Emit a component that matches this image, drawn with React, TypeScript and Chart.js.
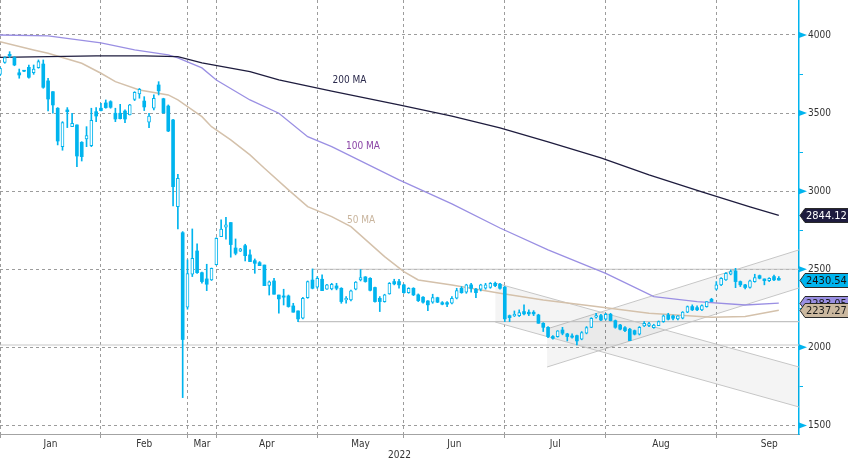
import { useEffect, useRef } from 'react';
import { Chart, registerables } from 'chart.js';

Chart.register(...registerables);

const FONT = "'DejaVu Sans Condensed', 'Liberation Sans Narrow', 'DejaVu Sans', sans-serif";
const CYAN = '#00b4ee';

// ---- candles (one per trading day, index 0 = first January session) ----
const opens = [
  3748, 3825, 3876, 3855, 3758, 3770, 3793, 3759, 3791, 3814,
  3706, 3637, 3531, 3285, 3520, 3413, 3424, 3313, 3334, 3292,
  3509, 3531, 3565, 3573, 3499, 3499, 3513, 3488, 3588, 3622,
  3577, 3441, 3531, 3680, 3592, 3545, 3456, 2901, 2734, 2257,
  2468, 2617, 2478, 2438, 2431, 2530, 2709, 2769, 2799, 2636,
  2615, 2651, 2592, 2555, 2542, 2527, 2397, 2425, 2335, 2329,
  2329, 2265, 2233, 2186, 2318, 2431, 2385, 2436, 2372, 2374,
  2393, 2378, 2303, 2303, 2372, 2432, 2451, 2442, 2383, 2314,
  2293, 2342, 2421, 2421, 2400, 2350, 2378, 2336, 2321, 2297,
  2289, 2318, 2286, 2286, 2282, 2314, 2378, 2353, 2400, 2372,
  2372, 2378, 2383, 2410, 2404, 2385, 2203, 2201, 2203, 2229,
  2225, 2225, 2207, 2154, 2128, 2069, 2069, 2111, 2086, 2073,
  2075, 2052, 2090, 2128, 2193, 2203, 2180, 2212, 2171, 2143,
  2126, 2116, 2107, 2084, 2137, 2141, 2126, 2139, 2165, 2207,
  2201, 2182, 2186, 2225, 2261, 2254, 2240, 2261, 2308, 2372,
  2400, 2432, 2468, 2489, 2421, 2400, 2383, 2421, 2459, 2438,
  2427, 2453, 2442,
];
const highs = [
  3795, 3861, 3893, 3862, 3782, 3773, 3808, 3808, 3840, 3840,
  3723, 3637, 3535, 3445, 3535, 3499, 3424, 3317, 3413, 3531,
  3535, 3563, 3584, 3579, 3531, 3556, 3520, 3556, 3637, 3658,
  3605, 3499, 3616, 3701, 3595, 3552, 3460, 3108, 2741, 2560,
  2758, 2662, 2482, 2532, 2508, 2702, 2816, 2833, 2799, 2694,
  2634, 2660, 2624, 2566, 2549, 2527, 2425, 2442, 2335, 2372,
  2335, 2282, 2233, 2320, 2425, 2502, 2453, 2464, 2404, 2410,
  2410, 2382, 2325, 2367, 2421, 2498, 2453, 2446, 2385, 2325,
  2340, 2415, 2436, 2436, 2404, 2382, 2382, 2342, 2325, 2299,
  2340, 2321, 2293, 2293, 2325, 2378, 2389, 2404, 2410, 2378,
  2404, 2410, 2415, 2417, 2410, 2390, 2207, 2233, 2240, 2272,
  2240, 2235, 2212, 2158, 2133, 2075, 2107, 2128, 2090, 2086,
  2079, 2101, 2133, 2190, 2218, 2212, 2218, 2218, 2175, 2148,
  2133, 2122, 2111, 2133, 2165, 2160, 2148, 2169, 2207, 2218,
  2207, 2203, 2229, 2265, 2272, 2265, 2272, 2293, 2314, 2421,
  2446, 2478, 2496, 2506, 2425, 2404, 2431, 2468, 2463, 2438,
  2446, 2463, 2453,
];
const lows = [
  3740, 3819, 3855, 3803, 3723, 3765, 3723, 3748, 3787, 3659,
  3513, 3499, 3296, 3262, 3407, 3413, 3157, 3193, 3285, 3285,
  3445, 3514, 3531, 3531, 3445, 3462, 3439, 3488, 3580, 3595,
  3516, 3407, 3520, 3616, 3499, 3381, 2905, 2758, 1678, 2244,
  2453, 2474, 2410, 2363, 2428, 2527, 2709, 2692, 2577, 2592,
  2613, 2553, 2549, 2474, 2523, 2395, 2335, 2340, 2218, 2271,
  2257, 2225, 2165, 2182, 2314, 2374, 2378, 2363, 2370, 2368,
  2368, 2282, 2282, 2297, 2368, 2425, 2417, 2361, 2289, 2229,
  2289, 2340, 2400, 2378, 2346, 2346, 2331, 2293, 2282, 2235,
  2282, 2286, 2272, 2261, 2278, 2310, 2346, 2346, 2353, 2318,
  2361, 2372, 2378, 2389, 2372, 2165, 2165, 2197, 2197, 2207,
  2203, 2203, 2154, 2101, 2062, 2052, 2065, 2080, 2041, 2058,
  2015, 2048, 2086, 2126, 2186, 2171, 2175, 2169, 2122, 2111,
  2101, 2043, 2079, 2079, 2133, 2133, 2122, 2139, 2160, 2175,
  2175, 2175, 2182, 2222, 2235, 2235, 2235, 2257, 2293, 2367,
  2395, 2428, 2464, 2382, 2389, 2374, 2378, 2417, 2438, 2400,
  2421, 2427, 2430,
];
const closes = [
  3787, 3855, 3866, 3808, 3744, 3768, 3729, 3782, 3829, 3665,
  3590, 3552, 3321, 3439, 3509, 3435, 3225, 3221, 3356, 3454,
  3481, 3516, 3535, 3537, 3462, 3464, 3462, 3552, 3633, 3652,
  3539, 3481, 3595, 3642, 3501, 3385, 3029, 3082, 2050, 2472,
  2570, 2478, 2421, 2404, 2506, 2698, 2757, 2784, 2658, 2602,
  2630, 2587, 2549, 2538, 2523, 2395, 2419, 2340, 2310, 2321,
  2261, 2225, 2182, 2314, 2421, 2378, 2442, 2363, 2400, 2404,
  2378, 2293, 2314, 2361, 2417, 2446, 2421, 2365, 2293, 2293,
  2336, 2410, 2406, 2400, 2350, 2378, 2336, 2299, 2289, 2272,
  2318, 2289, 2276, 2276, 2314, 2363, 2350, 2400, 2378, 2350,
  2400, 2400, 2410, 2395, 2378, 2182, 2190, 2212, 2222, 2214,
  2214, 2214, 2154, 2128, 2069, 2058, 2105, 2090, 2069, 2065,
  2041, 2094, 2126, 2186, 2203, 2175, 2212, 2171, 2128, 2116,
  2107, 2043, 2084, 2128, 2154, 2152, 2143, 2165, 2201, 2180,
  2186, 2201, 2225, 2261, 2240, 2240, 2267, 2293, 2293, 2400,
  2442, 2474, 2485, 2421, 2400, 2383, 2425, 2446, 2442, 2427,
  2442, 2432, 2430.54,
];

// ---- x axis (trading-day index) ----
const monthStarts = [0, 21, 39, 45, 66, 84, 105, 126, 149];
const monthLabels = ['Jan', 'Feb', 'Mar', 'Apr', 'May', 'Jun', 'Jul', 'Aug', 'Sep'];
const monthLabelAt = [10.5, 30, 42, 55.5, 75, 94.5, 115.5, 137.5, 160];
const yearLabel = '2022';
const xEnd = 166.2;

// ---- y axis ----
const yMin = 1445;
const yMax = 4224;
const yTicks = [1500, 1750, 2000, 2250, 2500, 2750, 3000, 3250, 3500, 3750, 4000];

// ---- moving averages (read at sample days) ----
const ma200Day = [0, 10, 20, 30, 37, 42, 52, 58, 69, 83, 94, 104, 114, 125, 135, 146, 156, 162];
const ma200Val = [3857, 3862, 3866, 3866, 3862, 3821, 3765, 3712, 3641, 3552, 3481, 3405, 3315, 3213, 3104, 2995, 2899, 2844.12];
const ma100Day = [0, 10, 21, 28, 35, 37, 42, 45, 52, 58, 64, 69, 83, 94, 104, 114, 126, 136, 145, 155, 162];
const ma100Val = [4000, 3994, 3949, 3904, 3872, 3853, 3789, 3712, 3584, 3499, 3349, 3285, 3072, 2918, 2764, 2624, 2474, 2325, 2293, 2271, 2283.05];
const ma50Day = [0, 7, 10, 17, 21, 24, 29, 35, 37, 42, 44, 48, 52, 55, 60, 64, 69, 73, 80, 84, 87, 94, 104, 113, 124, 135, 148, 155, 162];
const ma50Val = [3957, 3904, 3883, 3819, 3755, 3701, 3648, 3616, 3584, 3477, 3413, 3328, 3232, 3147, 3008, 2901, 2837, 2773, 2581, 2485, 2431, 2399, 2346, 2303, 2261, 2218, 2193, 2197, 2237.27];
const maNames = ['200 MA', '100 MA', '50 MA'];
const maNameDay = [72.7, 75.5, 75.1];
const maNameVal = [3712, 3289, 2813];

// ---- drawn levels and channels ----
const supportLevel = 2165;
const supportFrom = 62;
const resistLevel = 2500;
const resistFrom = 65;
const lowLevel = 2015;
const descFrom = 103;
const descUpper = [2412, 1874];
const descLower = [2162, 1618];
const ascFrom = 113.8;
const ascUpper = [2118, 2624];
const ascLower = [1874, 2380];

const C200 = '#1e1c3e';
const C100 = '#9a8fe3';
const C50 = '#d4c1ab';

export default function App() {
  const ref = useRef<HTMLCanvasElement>(null);

  useEffect(() => {
    document.body.style.margin = '0';
    const canvas = ref.current;
    if (!canvas) return;

    const days = opens.map((_, i) => i);
    const up = opens.map((o, i) => closes[i] >= o);
    const bodies = days.map((i) => ({ x: i, y: [opens[i], closes[i]] }));
    const wicks = days.map((i) => ({ x: i, y: [lows[i], highs[i]] }));
    const pts = (xs: number[], ys: number[]) => xs.map((x, k) => ({ x, y: ys[k] }));
    const seg = (x0: number, ys: number[]) => [{ x: x0, y: ys[0] }, { x: xEnd, y: ys[1] }];
    const isStart = (v: any) => monthStarts.indexOf(v) >= 0;

    const lineDs = (data: any, color: string, width: number, order: number, extra: any = {}) => ({
      type: 'line',
      data,
      borderColor: color,
      borderWidth: width,
      pointRadius: 0,
      tension: 0,
      fill: false,
      order,
      ...extra,
    });

    const overlay = {
      id: 'overlay',
      afterDraw(chart: any) {
        const { ctx, chartArea, scales } = chart;
        const ys = scales.y;
        const xs = scales.x;
        ctx.save();
        // major tick triangles
        ctx.fillStyle = CYAN;
        yTicks.forEach((v) => {
          if (v % 500 !== 0) return;
          const py = ys.getPixelForValue(v);
          ctx.beginPath();
          ctx.moveTo(chartArea.right, py - 3);
          ctx.lineTo(chartArea.right + 8, py);
          ctx.lineTo(chartArea.right, py + 3);
          ctx.closePath();
          ctx.fill();
        });
        // MA names
        ctx.font = `10px ${FONT}`;
        ctx.textAlign = 'center';
        ctx.textBaseline = 'middle';
        const nameColors = ['#2b2a4c', '#8b45a6', '#c9b59e'];
        maNames.forEach((n, k) => {
          ctx.fillStyle = nameColors[k];
          ctx.fillText(n, xs.getPixelForValue(maNameDay[k]), ys.getPixelForValue(maNameVal[k]));
        });
        // value tags
        const tag = (v: number, bg: string, fg: string) => {
          const py = Math.round(ys.getPixelForValue(v)) + 0.5;
          const x0 = chartArea.right + 1;
          ctx.beginPath();
          ctx.moveTo(x0, py);
          ctx.lineTo(x0 + 5, py - 7);
          ctx.lineTo(chart.width + 2, py - 7);
          ctx.lineTo(chart.width + 2, py + 7);
          ctx.lineTo(x0 + 5, py + 7);
          ctx.closePath();
          ctx.fillStyle = bg;
          ctx.fill();
          ctx.strokeStyle = '#2a2a2a';
          ctx.lineWidth = 1;
          ctx.stroke();
          ctx.fillStyle = fg;
          ctx.font = `11px ${FONT}`;
          ctx.textAlign = 'left';
          ctx.textBaseline = 'middle';
          ctx.fillText(v.toFixed(2), x0 + 6, py + 0.5);
        };
        tag(ma200Val[ma200Val.length - 1], C200, '#ffffff');
        tag(closes[closes.length - 1], CYAN, '#111111');
        tag(ma100Val[ma100Val.length - 1], C100, '#1a1a1a');
        tag(ma50Val[ma50Val.length - 1], '#cbb89f', '#1a1a1a');
        ctx.restore();
      },
    };

    const chart = new Chart(canvas, {
      type: 'bar',
      data: {
        datasets: [
          {
            type: 'bar',
            data: bodies,
            backgroundColor: up.map((u) => (u ? '#ffffff' : CYAN)),
            borderColor: CYAN,
            borderWidth: up.map((u) => (u ? 1 : 0)),
            borderSkipped: false,
            barThickness: 3,
            minBarLength: 1,
            grouped: false,
            order: 0,
          },
          {
            type: 'bar',
            data: wicks,
            backgroundColor: CYAN,
            borderWidth: 0,
            barThickness: 1,
            grouped: false,
            order: 1,
          },
          lineDs(pts(ma200Day, ma200Val), C200, 1.3, 2),
          lineDs(pts(ma100Day, ma100Val), C100, 1.3, 3),
          lineDs(pts(ma50Day, ma50Val), C50, 1.5, 4),
          lineDs([{ x: supportFrom, y: supportLevel }, { x: xEnd, y: supportLevel }], '#c2c2c2', 1.2, 5),
          lineDs([{ x: resistFrom, y: resistLevel }, { x: xEnd, y: resistLevel }], '#c2c2c2', 1.2, 6),
          lineDs([{ x: 0, y: lowLevel }, { x: xEnd, y: lowLevel }], '#c8c8c8', 1.2, 7),
          lineDs(seg(descFrom, descUpper), '#c6c6c6', 1, 8),
          lineDs(seg(descFrom, descLower), '#c6c6c6', 1, 9, { fill: '-1', backgroundColor: 'rgba(0,0,0,0.045)' }),
          lineDs(seg(ascFrom, ascUpper), '#c6c6c6', 1, 10),
          lineDs(seg(ascFrom, ascLower), '#c6c6c6', 1, 11, { fill: '-1', backgroundColor: 'rgba(0,0,0,0.045)' }),
        ],
      } as any,
      options: {
        responsive: false,
        animation: false,
        devicePixelRatio: 1,
        layout: { padding: 0 },
        plugins: {
          legend: { display: false },
          tooltip: { enabled: false },
          title: { display: false },
        },
        scales: {
          x: {
            type: 'linear',
            min: 0,
            max: xEnd,
            offset: false,
            afterBuildTicks: (s: any) => {
              const vals = [...monthStarts, ...monthLabelAt].sort((a, b) => a - b);
              s.ticks = vals.map((v) => ({ value: v }));
            },
            afterFit: (s: any) => {
              s.height = 28;
              s.paddingLeft = 0;
              s.paddingRight = 0;
              s.paddingTop = 0;
              s.paddingBottom = 0;
            },
            grid: {
              offset: false,
              color: (c: any) => (c.tick && isStart(c.tick.value) ? '#9c9c9c' : 'rgba(0,0,0,0)'),
              tickColor: (c: any) => (c.tick && isStart(c.tick.value) ? '#9c9c9c' : 'rgba(0,0,0,0)'),
              tickLength: 4,
              lineWidth: 1,
            },
            border: { display: true, color: '#a3a3a3', width: 1, dash: [3, 3] },
            ticks: {
              autoSkip: false,
              maxRotation: 0,
              minRotation: 0,
              padding: 0,
              color: '#333333',
              font: { family: FONT, size: 10 },
              callback: (v: any) => {
                const k = monthLabelAt.indexOf(v);
                return k >= 0 ? monthLabels[k] : '';
              },
            },
            title: {
              display: true,
              text: yearLabel,
              color: '#333333',
              font: { family: FONT, size: 10 },
              padding: { top: 0, bottom: 1 },
            },
          },
          y: {
            type: 'linear',
            position: 'right',
            min: yMin,
            max: yMax,
            afterBuildTicks: (s: any) => {
              s.ticks = yTicks.map((v) => ({ value: v }));
            },
            afterFit: (s: any) => {
              s.width = 49;
              s.paddingTop = 0;
              s.paddingBottom = 0;
              s.paddingLeft = 0;
              s.paddingRight = 0;
            },
            grid: {
              color: (c: any) => (c.tick && c.tick.value % 500 === 0 ? '#9c9c9c' : 'rgba(0,0,0,0)'),
              tickColor: CYAN,
              tickLength: 4,
              lineWidth: 1,
            },
            border: { display: true, color: CYAN, width: 1.5, dash: [3, 3] },
            ticks: {
              padding: 5,
              color: '#333333',
              font: { family: FONT, size: 10 },
              callback: (v: any) => (v % 500 === 0 ? String(v) : ''),
            },
          },
        },
      } as any,
      plugins: [overlay],
    });

    return () => chart.destroy();
  }, []);

  return <canvas ref={ref} width={848} height={462} style={{ display: 'block' }} />;
}
